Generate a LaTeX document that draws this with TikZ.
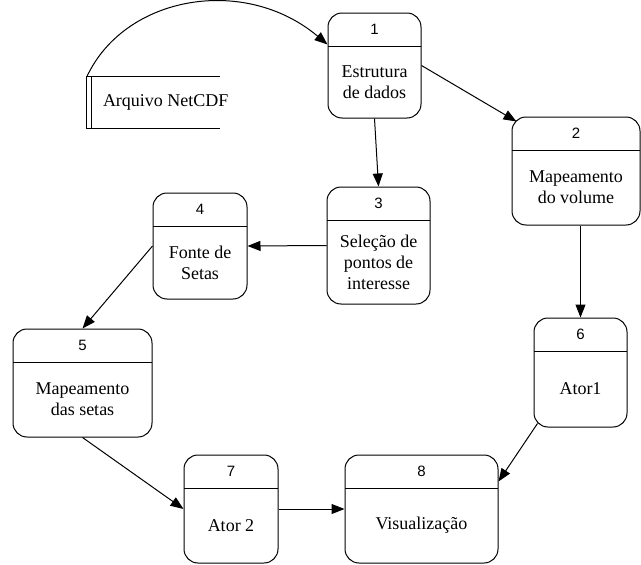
\documentclass[tikz,border=0pt]{standalone}
\usepackage{fontspec}
\setmainfont{Liberation Serif}
\newfontfamily\txtfont{Liberation Serif}
\newfontfamily\numfont{Liberation Sans}
\usetikzlibrary{arrows.meta}

\begin{document}
\begin{tikzpicture}[
        x=1pt, y=-1pt,
        proc/.style 2 args={rectangle, draw, rounded corners=14pt, line width=1pt,
            minimum width=#1, minimum height=#2, inner sep=0pt,
            path picture={\draw[line width=0.9pt] ([yshift=-33pt]path picture bounding box.north west)
                -- ([yshift=-33pt]path picture bounding box.north east);}},
        store/.style={minimum width=133pt, minimum height=51pt, inner sep=0pt},
        txt/.style={align=center, font=\txtfont\fontsize{18}{21}\selectfont, inner sep=0pt},
        num/.style={font=\numfont\fontsize{15}{17}\selectfont, inner sep=0pt},
        arrow/.style={-{Triangle[length=13pt,width=10pt]}, line width=1pt}
    ]
    \useasboundingbox (0,0) rectangle (641,565);

    % data store
    \node[store] (arq) at (153.5,102.5) {};
    \node[txt, anchor=west] (arqtxt) at ([xshift=16pt]arq.west) {Arquivo NetCDF};
    \draw[line width=1pt] (arq.north east) -- (arq.north west) -- (arq.south west) -- (arq.south east);
    \draw[line width=1pt] ([xshift=5pt]arq.north west) -- ([xshift=5pt]arq.south west);

    % processes
    \node[proc={93pt}{105pt}] (p1) at (374.5,65.5) {};
    \node[num] (n1) at ([yshift=-16.5pt]p1.north) {1};
    \node[txt] (t1) at ([yshift=-16.5pt]p1.center) {Estrutura\\de dados};

    \node[proc={128pt}{108pt}] (p2) at (576,171) {};
    \node[num] (n2) at ([yshift=-16.5pt]p2.north) {2};
    \node[txt] (t2) at ([yshift=-16.5pt]p2.center) {Mapeamento\\do volume};

    \node[proc={103pt}{117pt}] (p3) at (378.5,245.5) {};
    \node[num] (n3) at ([yshift=-16.5pt]p3.north) {3};
    \node[txt] (t3) at ([yshift=-16.5pt]p3.center) {Seleção de\\pontos de\\interesse};

    \node[proc={94pt}{106pt}] (p4) at (200,246) {};
    \node[num] (n4) at ([yshift=-16.5pt]p4.north) {4};
    \node[txt] (t4) at ([yshift=-16.5pt]p4.center) {Fonte de\\Setas};

    \node[proc={139pt}{108pt}] (p5) at (82.5,383) {};
    \node[num] (n5) at ([yshift=-16.5pt]p5.north) {5};
    \node[txt] (t5) at ([yshift=-16.5pt]p5.center) {Mapeamento\\das setas};

    \node[proc={93pt}{109pt}] (p6) at (580.5,372.5) {};
    \node[num] (n6) at ([yshift=-16.5pt]p6.north) {6};
    \node[txt] (t6) at ([yshift=-16.5pt]p6.center) {Ator1};

    \node[proc={94pt}{108pt}] (p7) at (231,509) {};
    \node[num] (n7) at ([yshift=-16.5pt]p7.north) {7};
    \node[txt] (t7) at ([yshift=-16.5pt]p7.center) {Ator 2};

    \node[proc={153pt}{108pt}] (p8) at (421.5,509) {};
    \node[num] (n8) at ([yshift=-16.5pt]p8.north) {8};
    \node[txt] (t8) at ([yshift=-16.5pt]p8.center) {Visualização};

    % flows
    \draw[arrow] (arq.north west) .. controls (125,-5) and (245,-25) .. ([yshift=-32pt]p1.north west);
    \draw[arrow] (p1.east) -- ([xshift=5pt,yshift=-5pt]p2.north west);
    \draw[arrow] (p1.south) -- (p3.north);
    \draw[arrow] (p3.west) -- (p4.east);
    \draw[arrow] (p4.west) -- (p5.north);
    \draw[arrow] (p6.north |- p2.south) -- (p6.north);
    \draw[arrow] (p5.south) -- (p7.west);
    \draw[arrow] ([xshift=4pt,yshift=4pt]p6.south west) -- ([yshift=-27pt]p8.north east);
    \draw[arrow] (p7.east) -- (p8.west);
\end{tikzpicture}
\end{document}
